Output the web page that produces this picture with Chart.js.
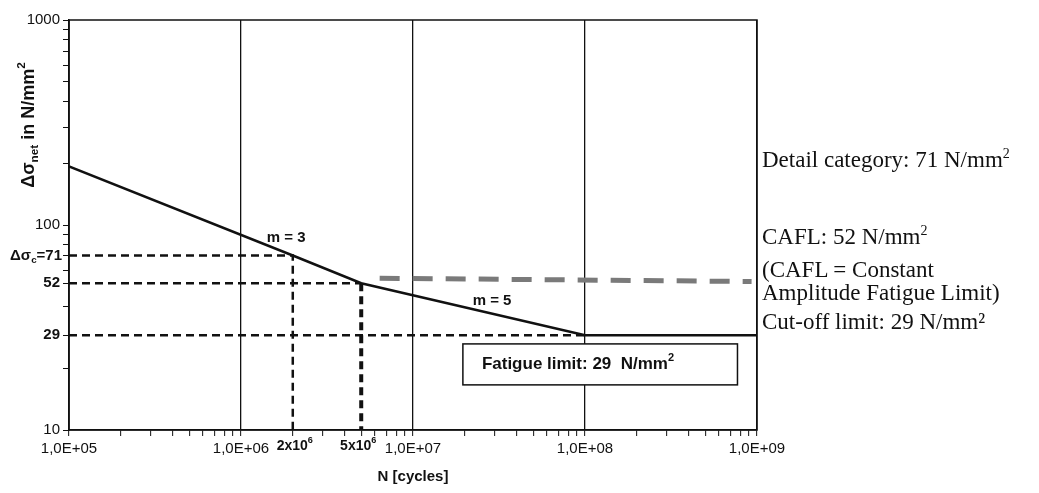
<!DOCTYPE html>
<html>
<head>
<meta charset="utf-8">
<script src="https://cdn.jsdelivr.net/npm/chart.js@4.4.0/dist/chart.umd.min.js"></script>
<style>
  html, body { margin: 0; padding: 0; background: #fff; }
  #wrap { position: relative; width: 1039px; height: 493px; }
  #wrap canvas { position: absolute; left: 0; top: 0; }
  .note {
    position: absolute; left: 762px;
    font-family: "Liberation Serif", "Times New Roman", serif;
    font-size: 23px; line-height: 1; color: #111; white-space: nowrap;
  }
  .note sup { font-size: 14px; position: relative; top: -9px; vertical-align: baseline; }
</style>
</head>
<body>
<div id="wrap">
  <canvas id="snChart"></canvas>
  <div class="note" style="top:148px">Detail category: 71 N/mm<sup>2</sup></div>
  <div class="note" style="top:225px">CAFL: 52 N/mm<sup>2</sup></div>
  <div class="note" style="top:258px">(CAFL = Constant</div>
  <div class="note" style="top:281px">Amplitude Fatigue Limit)</div>
  <div class="note" style="top:310px">Cut-off limit: 29 N/mm²</div>
</div>
<script>
// S-N curve (detail category 71)
const snCycles = [1e5, 2e6, 5e6, 1e8, 1e9];
const snStress = [193, 71, 52, 29, 29];
// grey dashed CAFL line
const caflCycles = [6.4e6, 9.3e8];
const caflStress = [55, 53];
// reference levels and where they meet the curve
const refLevels = [71, 52, 29];
const refCycles = [2e6, 5e6, 1e8];
// axis ticks
const xDecades = [1e5, 1e6, 1e7, 1e8, 1e9];
const xTickLabels = ["1,0E+05", "1,0E+06", "1,0E+07", "1,0E+08", "1,0E+09"];
const yTickValues = [10, 100, 1000, 52, 29];
const yTickLabels = ["10", "100", "1000", "52", "29"];

const xMin = xDecades[0], xMax = xDecades[xDecades.length - 1];
const yMin = 10, yMax = 1000;

// where the text annotations sit, in data units
const notes = {
  m3: [1.83e6, 87],
  m5: [2.88e7, 42.6],
  box: [1.95e7, 26.3, 7.7e8, 16.6]
};

function near(a, b) { return Math.abs(a - b) < b * 1e-6; }
function isDecade(v) {
  const l = Math.log10(v);
  return Math.abs(l - Math.round(l)) < 1e-9;
}
function pts(xs, ys) { return xs.map((x, i) => ({ x: x, y: ys[i] })); }

// draw text made of pieces, some raised or lowered
function drawRich(ctx, parts, x, y, align, size, weight) {
  const fam = "'Liberation Sans', Arial, sans-serif";
  let w = 0;
  parts.forEach(p => {
    const s = p.sub || p.sup ? size * 0.65 : size;
    ctx.font = weight + " " + s + "px " + fam;
    p.w = ctx.measureText(p.t).width;
    w += p.w;
  });
  let cx = align === "right" ? x - w : align === "center" ? x - w / 2 : x;
  ctx.textAlign = "left";
  ctx.textBaseline = "middle";
  parts.forEach(p => {
    const s = p.sub || p.sup ? size * 0.65 : size;
    ctx.font = weight + " " + s + "px " + fam;
    let dy = 0;
    if (p.sub) dy = size * 0.3;
    if (p.sup) dy = -size * 0.4;
    ctx.fillText(p.t, cx, y + dy);
    cx += p.w;
  });
}

const extras = {
  id: "extras",
  afterDraw(chart) {
    const ctx = chart.ctx;
    const xs = chart.scales.x, ys = chart.scales.y;
    const a = chart.chartArea;
    ctx.save();
    ctx.fillStyle = "#111";
    ctx.strokeStyle = "#111";

    // frame
    ctx.lineWidth = 1.5;
    ctx.strokeRect(a.left, a.top, a.right - a.left, a.bottom - a.top);

    // y title
    ctx.save();
    ctx.translate(29, 125);
    ctx.rotate(-Math.PI / 2);
    drawRich(ctx, [{ t: "\u0394\u03c3" }, { t: "net", sub: true }, { t: " in N/mm" }, { t: "2", sup: true }],
      0, 0, "center", 18, "bold");
    ctx.restore();

    // special tick labels
    const tickY = a.bottom + 16;
    drawRich(ctx, [{ t: "\u0394\u03c3" }, { t: "c", sub: true }, { t: "=71" }],
      a.left - 7, ys.getPixelForValue(refLevels[0]), "right", 15, "bold");
    drawRich(ctx, [{ t: "2x10" }, { t: "6", sup: true }],
      xs.getPixelForValue(refCycles[0]) + 2, tickY, "center", 14, "bold");
    drawRich(ctx, [{ t: "5x10" }, { t: "6", sup: true }],
      xs.getPixelForValue(refCycles[1]) - 3, tickY, "center", 14, "bold");

    // slope labels
    drawRich(ctx, [{ t: "m = 3" }], xs.getPixelForValue(notes.m3[0]), ys.getPixelForValue(notes.m3[1]), "center", 15, "bold");
    drawRich(ctx, [{ t: "m = 5" }], xs.getPixelForValue(notes.m5[0]), ys.getPixelForValue(notes.m5[1]), "center", 15, "bold");

    // fatigue limit box
    const bx0 = xs.getPixelForValue(notes.box[0]), by0 = ys.getPixelForValue(notes.box[1]);
    const bx1 = xs.getPixelForValue(notes.box[2]), by1 = ys.getPixelForValue(notes.box[3]);
    ctx.fillStyle = "#fff";
    ctx.fillRect(bx0, by0, bx1 - bx0, by1 - by0);
    ctx.lineWidth = 1.5;
    ctx.strokeRect(bx0, by0, bx1 - bx0, by1 - by0);
    ctx.fillStyle = "#111";
    drawRich(ctx, [{ t: "Fatigue limit: 29  N/mm" }, { t: "2", sup: true }],
      bx0 + 19, (by0 + by1) / 2, "left", 17, "bold");
    ctx.restore();
  }
};

// tick lists: 1..9 per decade
const xTicks = [];
for (let d = 0; d < xDecades.length - 1; d++) {
  for (let k = 1; k <= 9; k++) xTicks.push(k * xDecades[d]);
}
xTicks.push(xMax);

const yTicks = [];
[10, 100].forEach(d => {
  for (let k = 1; k <= 9; k++) {
    const v = k * d;
    if (v === 30 || v === 50 || v === 70) continue;
    yTicks.push(v);
  }
});
yTicks.push(yMax);
refLevels.forEach(v => yTicks.push(v));
yTicks.sort((p, q) => p - q);

Chart.defaults.font.family = "'Liberation Sans', Arial, sans-serif";
Chart.defaults.color = "#111";

const black = "#111";
const dashed = [8, 5];

new Chart(document.getElementById("snChart"), {
  type: "line",
  data: {
    datasets: [
      { data: pts(snCycles, snStress), borderColor: black, borderWidth: 2.5 },
      { data: pts(caflCycles, caflStress), borderColor: "#7a7a7a", borderWidth: 5, borderDash: [20, 13] },
      { data: [{ x: xMin, y: refLevels[0] }, { x: refCycles[0], y: refLevels[0] }, { x: refCycles[0], y: yMin }],
        borderColor: black, borderWidth: 2.5, borderDash: dashed },
      { data: [{ x: xMin, y: refLevels[1] }, { x: refCycles[1], y: refLevels[1] }],
        borderColor: black, borderWidth: 2.5, borderDash: dashed },
      { data: [{ x: refCycles[1], y: refLevels[1] }, { x: refCycles[1], y: yMin }],
        borderColor: black, borderWidth: 4, borderDash: dashed },
      { data: [{ x: xMin, y: refLevels[2] }, { x: refCycles[2], y: refLevels[2] }],
        borderColor: black, borderWidth: 2.5, borderDash: dashed }
    ]
  },
  options: {
    responsive: true,
    maintainAspectRatio: false,
    animation: false,
    layout: { padding: { left: 0, top: 20, right: 282, bottom: 0 } },
    elements: { point: { radius: 0 }, line: { tension: 0, fill: false } },
    plugins: { legend: { display: false }, tooltip: { enabled: false } },
    scales: {
      x: {
        type: "logarithmic",
        min: xMin,
        max: xMax,
        afterBuildTicks(scale) { scale.ticks = xTicks.map(v => ({ value: v })); },
        afterFit(scale) { scale.height = 63; scale.paddingLeft = 0; scale.paddingRight = 0; },
        border: { display: true, color: black, width: 1.5 },
        grid: {
          color: c => (c.tick && isDecade(c.tick.value) ? black : "rgba(0,0,0,0)"),
          lineWidth: 1.3,
          tickColor: black,
          tickLength: 6,
          tickWidth: 1
        },
        ticks: {
          autoSkip: false,
          maxRotation: 0,
          padding: 4,
          font: { size: 15 },
          callback: v => {
            const i = xDecades.findIndex(d => near(v, d));
            return i >= 0 ? xTickLabels[i] : "";
          }
        },
        title: {
          display: true,
          text: "N [cycles]",
          font: { size: 15, weight: "bold" },
          padding: { top: 4, bottom: 7 }
        }
      },
      y: {
        type: "logarithmic",
        min: yMin,
        max: yMax,
        afterBuildTicks(scale) { scale.ticks = yTicks.map(v => ({ value: v })); },
        afterFit(scale) { scale.width = 69; scale.paddingTop = 0; scale.paddingBottom = 0; },
        border: { display: true, color: black, width: 1.5 },
        grid: { drawOnChartArea: false, tickColor: black, tickLength: 6, tickWidth: 1 },
        ticks: {
          autoSkip: false,
          padding: 3,
          font: c => ({ size: 15, weight: c.tick && (near(c.tick.value, 52) || near(c.tick.value, 29)) ? "bold" : "normal" }),
          callback: v => {
            const i = yTickValues.findIndex(d => near(v, d));
            return i >= 0 ? yTickLabels[i] : "";
          }
        }
      }
    }
  },
  plugins: [extras]
});
</script>
</body>
</html>
